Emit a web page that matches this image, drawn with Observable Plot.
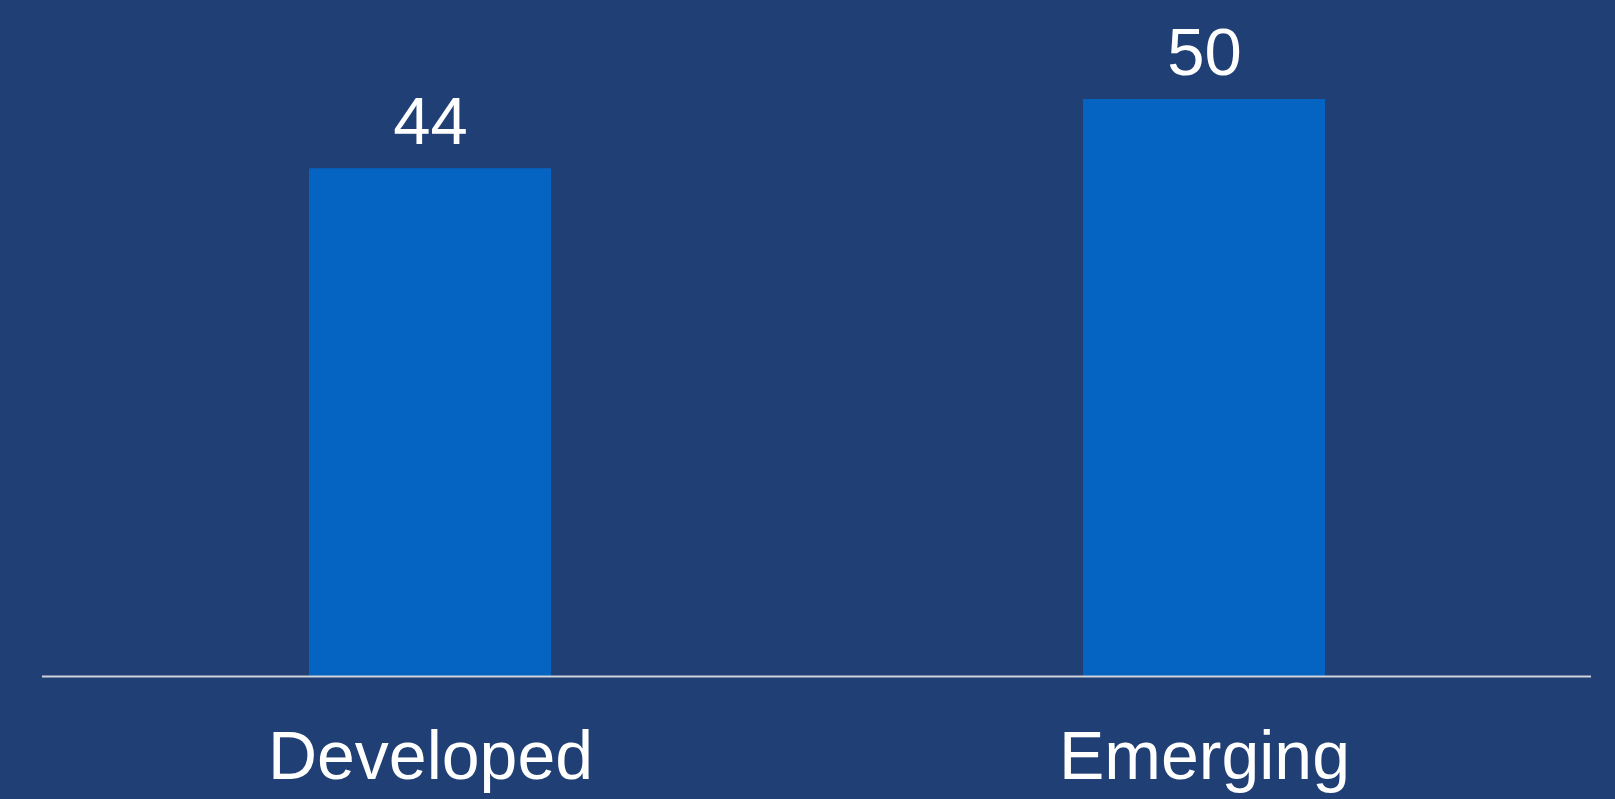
<!DOCTYPE html>
<html>
<head>
<meta charset="utf-8">
<script src="https://cdn.jsdelivr.net/npm/d3@7"></script>
<script src="https://cdn.jsdelivr.net/npm/@observablehq/plot@0.6"></script>
<style>
  html, body { margin: 0; padding: 0; background: #203f75; }
  #chart { width: 1615px; height: 799px; }
</style>
</head>
<body>
<div id="chart"></div>
<script>
const categories = ["Developed", "Emerging"];
const values = [44, 50];

const data = categories.map((c, i) => ({category: c, value: values[i]}));

const chart = Plot.plot({
  width: 1615,
  height: 799,
  marginTop: 99,
  marginBottom: 123,
  marginLeft: 42,
  marginRight: 24,
  style: {background: "#203f75", fontFamily: "'Liberation Sans', Arial, sans-serif", color: "#ffffff"},
  x: {domain: categories, padding: 0, label: null},
  y: {domain: [0, 50], axis: null},
  marks: [
    Plot.barY(data, {x: "category", y: "value", fill: "#0563c1", insetLeft: 266, insetRight: 266}),
    Plot.ruleY([0], {stroke: "#d0d3da", strokeWidth: 2}),
    Plot.text(data, {x: "category", y: "value", text: d => String(d.value), lineAnchor: "bottom", dy: -25, fill: "#ffffff", fontSize: 67}),
    Plot.axisX({tickSize: 0, tickPadding: 54, fontSize: 68, fill: "#ffffff", label: null})
  ]
});
document.getElementById("chart").appendChild(chart);
</script>
</body>
</html>
